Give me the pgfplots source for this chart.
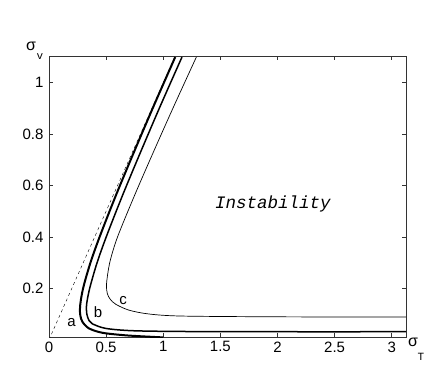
\documentclass[border=0pt]{standalone}
\usepackage{fontspec}
\setmainfont{Liberation Sans}
\newfontfamily\cour{Liberation Mono}
\usepackage{pgfplots}
\pgfplotsset{compat=1.18}

\begin{document}
\begin{tikzpicture}
\begin{axis}[
  scale only axis,
  width=357pt, height=281pt,
  xmin=0, xmax=3.125, ymin=0.0105, ymax=1.104,
  xtick={0,0.5,1,1.5,2,2.5,3},
  xticklabels={0,0.5,1,1.5,2,2.5,3},
  ytick={0.2,0.4,0.6,0.8,1},
  yticklabels={0.2,0.4,0.6,0.8,1},
  tick align=inside,
  major tick length=4pt,
  axis line style={black!80, line width=0.8pt},
  tick style={black!80, line width=0.5pt},
  ticklabel style={font=\fontsize{15}{15}\selectfont},
  yticklabel style={xshift=-2pt},
  xticklabel style={yshift=-1pt},
]
% dashed asymptote
\addplot[black, line width=0.4pt, dash pattern=on 3pt off 3pt] coordinates {(0,0) (1.1,1.1)};

% curve a (thickest)
\addplot[black, line width=2pt, smooth] coordinates {
  (1.105,1.10) (0.907,0.90) (0.715,0.70) (0.575,0.55) (0.443,0.40)
  (0.363,0.30) (0.304,0.21) (0.279,0.155) (0.271,0.12) (0.274,0.095)
  (0.292,0.07) (0.35,0.044) (0.467,0.027) (0.671,0.017) (0.905,0.011) (1.0,0.009)
};

% curve b
\addplot[black, line width=1.5pt, smooth] coordinates {
  (1.164,1.10) (0.965,0.90) (0.773,0.70) (0.633,0.55) (0.501,0.40)
  (0.421,0.30) (0.362,0.21) (0.337,0.16) (0.328,0.13) (0.331,0.10)
  (0.35,0.075) (0.379,0.062) (0.496,0.044) (0.73,0.035) (1.168,0.032)
  (2.0,0.031) (3.13,0.031)
};

% curve c (thin)
\addplot[black, line width=0.7pt, smooth] coordinates {
  (1.29,1.10) (1.084,0.90) (0.884,0.70) (0.738,0.55) (0.60,0.40)
  (0.537,0.31) (0.512,0.25) (0.503,0.21) (0.51,0.18) (0.535,0.158)
  (0.584,0.138) (0.70,0.115) (0.876,0.10) (1.168,0.092) (2.04,0.089) (3.13,0.088)
};

\node[font=\fontsize{15}{15}\selectfont] at (axis cs:0.198,0.066) {a};
\node[font=\fontsize{15}{15}\selectfont] at (axis cs:0.429,0.108) {b};
\node[font=\fontsize{15}{15}\selectfont] at (axis cs:0.648,0.153) {c};
\node[font=\cour\itshape\fontsize{17.5}{18}\selectfont] at (axis cs:1.96,0.53) {Instability};
\end{axis}

% axis labels
\node[font=\fontsize{16}{16}\selectfont] at (-18pt,291pt) {σ};
\node[font=\cour\fontsize{11}{11}\selectfont] at (-9pt,280pt) {v};
\node[font=\fontsize{16}{16}\selectfont] at (364pt,-5pt) {σ};
\node[font=\cour\fontsize{11}{11}\selectfont] at (372pt,-20pt) {T};

\pgfresetboundingbox
\path[use as bounding box] (-49pt,-47pt) rectangle (387pt,337pt);
\end{tikzpicture}
\end{document}
